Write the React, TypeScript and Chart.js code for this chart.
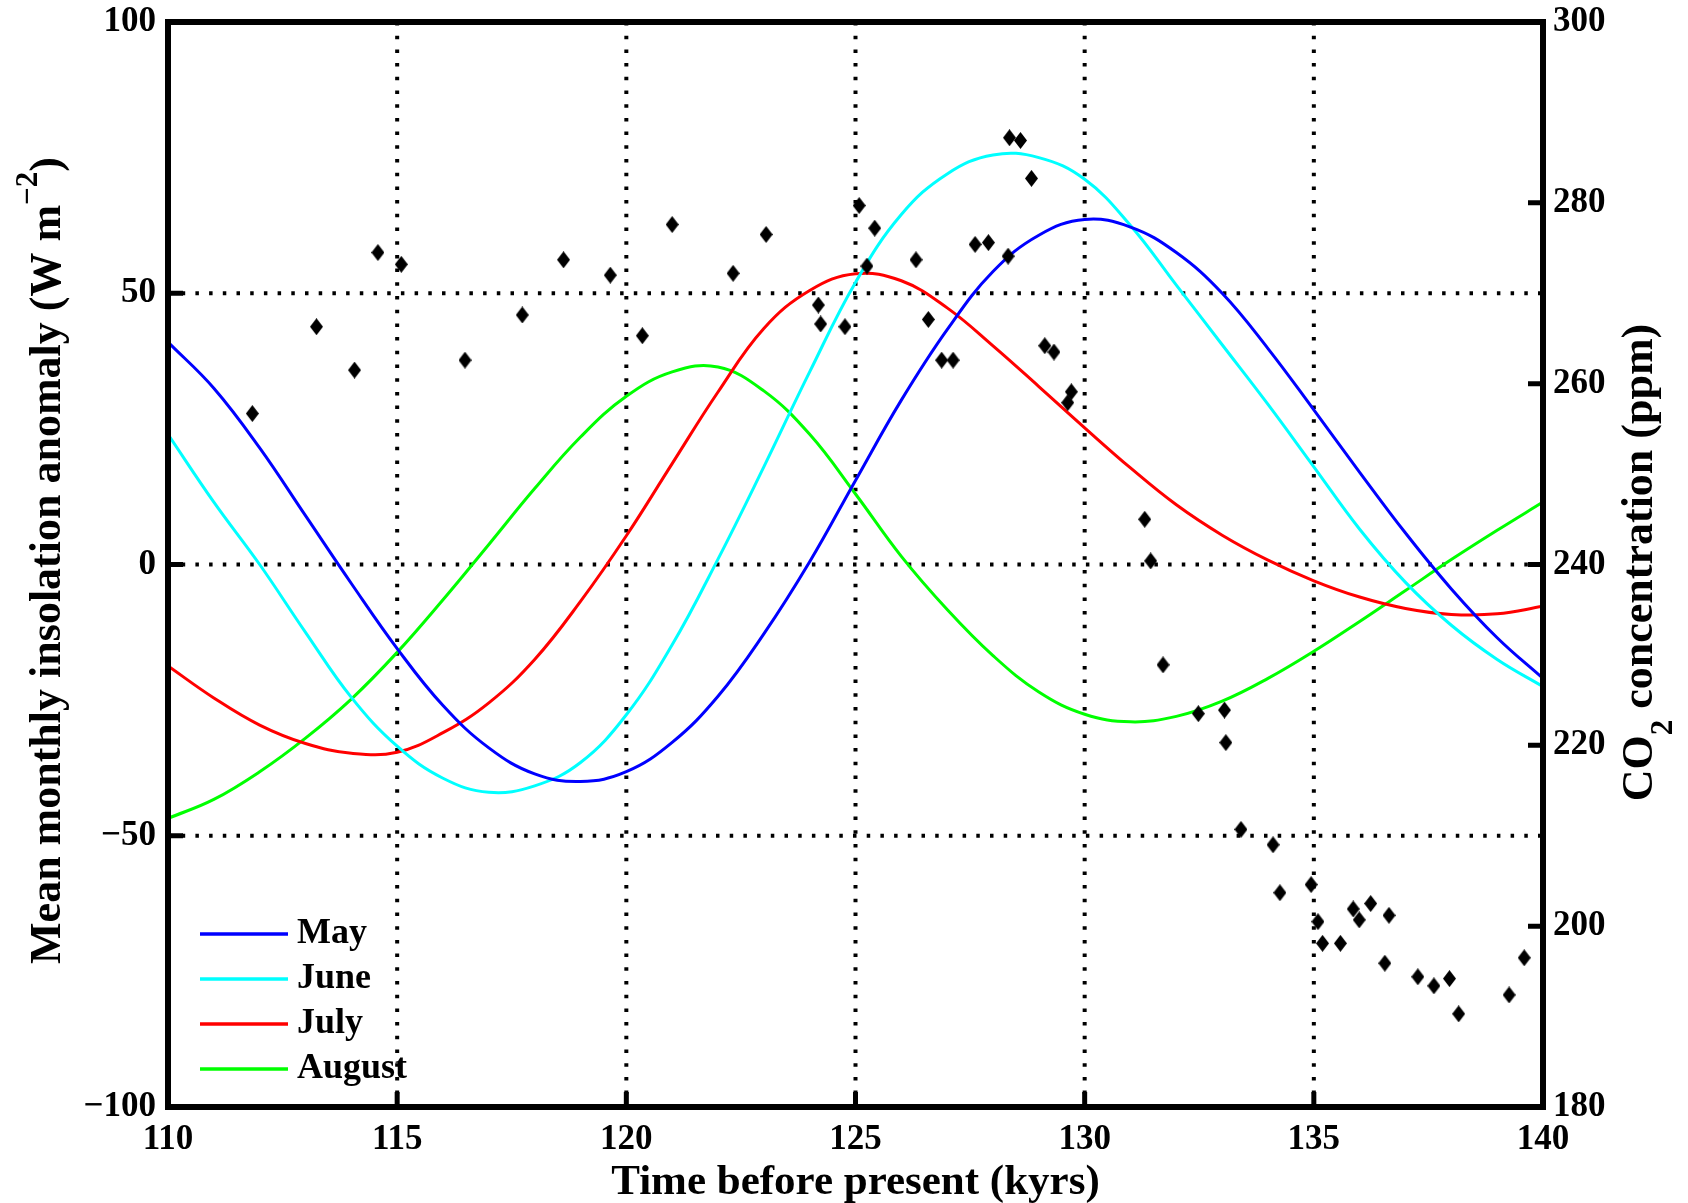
import { useEffect, useRef } from "react";
import { Chart, registerables } from "chart.js";

Chart.register(...registerables);

// Age before present (kyrs) at which insolation anomalies are read
const years = [110, 111, 112, 113, 114, 115, 116, 117, 118, 119, 120, 121, 122, 123, 124, 125, 126, 127, 128, 129, 130, 131, 132, 133, 134, 135, 136, 137, 138, 139, 140];

// Mean monthly insolation anomaly (W m-2)
const may = [41, 32.5, 21.5, 9, -3.5, -15.5, -26, -33.8, -38.6, -40, -38.2, -32.8, -24.3, -12.8, 0.5, 15.5, 30.3, 43.3, 54, 60.7, 63.6, 62.2, 57.5, 50, 39.8, 28.5, 17, 5.8, -4.5, -13.5, -21];
const june = [24, 11.5, 0, -12.5, -24.5, -33.5, -39.4, -42, -40.8, -36.5, -27.7, -14.8, 1, 18, 35.5, 52, 64.5, 72, 75.5, 75, 71, 62.5, 51.5, 40.5, 29.5, 18, 6.5, -3.3, -11.2, -17.5, -22.5];
const july = [-18.7, -24.6, -29.6, -33, -34.8, -34.6, -31, -25.5, -17.5, -6.8, 5.3, 18.6, 31.8, 43.5, 50.5, 53.6, 52.3, 47.3, 40.3, 32.8, 25.2, 17.8, 11, 5.4, 0.8, -3, -6, -8.1, -9.2, -9.1, -7.7];
const august = [-46.8, -43.3, -38.2, -32, -24.8, -16.2, -6.5, 3.7, 14, 23.5, 31, 35.5, 36.4, 32, 24, 13, 1.5, -8.3, -16.8, -23.5, -27.6, -29, -28, -25.2, -21, -16, -10.5, -4.8, 0.9, 6.3, 11.5];

// CO2 record (age in kyrs, concentration in ppm)
const co2Age = [111.84, 113.24, 114.07, 114.58, 115.09, 116.48, 117.73, 118.63, 119.65, 120.35, 121.0, 122.33, 123.05, 124.19, 124.24, 124.77, 125.08, 125.42, 125.25, 126.32, 126.59, 126.88, 127.13, 127.61, 127.9, 128.33, 128.36, 128.6, 128.84, 129.13, 129.33, 129.71, 129.63, 131.31, 131.44, 131.71, 132.48, 133.05, 133.08, 133.41, 134.11, 134.26, 134.94, 135.09, 135.19, 135.58, 135.86, 135.99, 136.24, 136.64, 136.55, 137.27, 137.62, 137.96, 138.16, 139.26, 139.59];
const co2Ppm = [256.7, 266.3, 261.5, 274.5, 273.2, 262.6, 267.6, 273.7, 272.0, 265.3, 277.6, 272.2, 276.5, 268.7, 266.6, 266.3, 279.7, 277.2, 273.0, 273.7, 267.1, 262.6, 262.6, 275.4, 275.6, 274.1, 287.2, 286.9, 282.7, 264.2, 263.5, 259.1, 257.9, 245.0, 240.4, 228.9, 223.5, 223.9, 220.3, 210.7, 209.0, 203.7, 204.6, 200.5, 198.1, 198.1, 201.9, 200.7, 202.5, 201.2, 195.9, 194.4, 193.4, 194.2, 190.3, 192.4, 196.5];

const seriesNames = ["May", "June", "July", "August"];
const seriesColors = ["#0000ff", "#00ffff", "#ff0000", "#00ff00"];

const xTitle = "Time before present (kyrs)";
const yTitleMain = "Mean monthly insolation anomaly (W m";
const yTitleSup = "\u22122";
const yTitleEnd = ")";
const y2TitleA = "CO";
const y2TitleSub = "2";
const y2TitleB = " concentration (ppm)";

const FONT = "'Liberation Serif', 'Times New Roman', serif";

function makeDiamond(): HTMLCanvasElement {
  const c = document.createElement("canvas");
  c.width = 13;
  c.height = 17;
  const g = c.getContext("2d")!;
  g.fillStyle = "#000";
  g.beginPath();
  g.moveTo(6.5, 0);
  g.lineTo(13, 8.5);
  g.lineTo(6.5, 17);
  g.lineTo(0, 8.5);
  g.closePath();
  g.fill();
  return c;
}

const framePlugin = {
  id: "matlabFrame",
  beforeDatasetsDraw(chart: any) {
    const { ctx, chartArea: a, scales } = chart;
    ctx.save();
    ctx.strokeStyle = "#000";
    ctx.lineWidth = 4;
    ctx.setLineDash([3.5, 10.2]);
    const xs = scales.x;
    xs.ticks.forEach((t: any) => {
      if (t.value > xs.min && t.value < xs.max) {
        const px = xs.getPixelForValue(t.value);
        ctx.beginPath();
        ctx.moveTo(px, a.top);
        ctx.lineTo(px, a.bottom);
        ctx.stroke();
      }
    });
    const ys = scales.y;
    ys.ticks.forEach((t: any) => {
      if (t.value > ys.min && t.value < ys.max) {
        const py = ys.getPixelForValue(t.value);
        ctx.beginPath();
        ctx.moveTo(a.left, py);
        ctx.lineTo(a.right, py);
        ctx.stroke();
      }
    });
    ctx.restore();
  },
  afterDatasetsDraw(chart: any) {
    const { ctx, chartArea: a, scales } = chart;
    ctx.save();
    ctx.setLineDash([]);
    ctx.strokeStyle = "#000";
    ctx.lineWidth = 5;
    const tl = 15;
    ctx.beginPath();
    scales.x.ticks.forEach((t: any) => {
      const px = scales.x.getPixelForValue(t.value);
      ctx.moveTo(px, a.bottom);
      ctx.lineTo(px, a.bottom - tl);
    });
    scales.y.ticks.forEach((t: any) => {
      const py = scales.y.getPixelForValue(t.value);
      ctx.moveTo(a.left, py);
      ctx.lineTo(a.left + tl, py);
    });
    scales.y2.ticks.forEach((t: any) => {
      const py = scales.y2.getPixelForValue(t.value);
      ctx.moveTo(a.right, py);
      ctx.lineTo(a.right - tl, py);
    });
    ctx.stroke();
    ctx.lineWidth = 6;
    ctx.lineJoin = "miter";
    ctx.strokeRect(a.left, a.top, a.right - a.left, a.bottom - a.top);
    ctx.restore();
  },
  afterDraw(chart: any) {
    const { ctx, chartArea: a } = chart;
    const cy = (a.top + a.bottom) / 2;
    ctx.save();
    ctx.fillStyle = "#000";
    ctx.textBaseline = "alphabetic";

    // x title
    ctx.font = `bold 43px ${FONT}`;
    ctx.textAlign = "center";
    ctx.fillText(xTitle, (a.left + a.right) / 2, a.bottom + 87);

    // left y title with superscript
    ctx.textAlign = "left";
    const LF = 44;
    ctx.font = `bold ${LF}px ${FONT}`;
    const w1 = ctx.measureText(yTitleMain).width;
    const w3 = ctx.measureText(yTitleEnd).width;
    ctx.font = `bold 31px ${FONT}`;
    const w2 = ctx.measureText(yTitleSup).width;
    const tot = w1 + w2 + w3;
    ctx.save();
    ctx.translate(a.left - 108, cy - 4);
    ctx.rotate(-Math.PI / 2);
    let u = -tot / 2;
    ctx.font = `bold ${LF}px ${FONT}`;
    ctx.fillText(yTitleMain, u, 0);
    u += w1;
    ctx.font = `bold 31px ${FONT}`;
    ctx.fillText(yTitleSup, u, -23);
    u += w2;
    ctx.font = `bold ${LF}px ${FONT}`;
    ctx.fillText(yTitleEnd, u, 0);
    ctx.restore();

    // right y title with subscript
    const RF = 44;
    ctx.font = `bold ${RF}px ${FONT}`;
    const r1 = ctx.measureText(y2TitleA).width;
    const r3 = ctx.measureText(y2TitleB).width;
    ctx.font = `bold 31px ${FONT}`;
    const r2 = ctx.measureText(y2TitleSub).width;
    const rt = r1 + r2 + r3;
    ctx.save();
    ctx.translate(a.right + 109, cy - 2);
    ctx.rotate(-Math.PI / 2);
    let v = -rt / 2;
    ctx.font = `bold ${RF}px ${FONT}`;
    ctx.fillText(y2TitleA, v, 0);
    v += r1;
    ctx.font = `bold 31px ${FONT}`;
    ctx.fillText(y2TitleSub, v, 20);
    v += r2;
    ctx.font = `bold ${RF}px ${FONT}`;
    ctx.fillText(y2TitleB, v, 0);
    ctx.restore();

    // legend
    const lines = chart.data.datasets.filter((d: any) => d.type === "line");
    lines.forEach((d: any, i: number) => {
      const y = a.bottom - 173 + i * 45;
      ctx.strokeStyle = d.borderColor;
      ctx.lineWidth = 3.5;
      ctx.beginPath();
      ctx.moveTo(a.left + 32, y);
      ctx.lineTo(a.left + 120, y);
      ctx.stroke();
      ctx.fillStyle = "#000";
      ctx.font = `bold 36px ${FONT}`;
      ctx.textAlign = "left";
      ctx.textBaseline = "middle";
      ctx.fillText(d.label, a.left + 129, y);
    });
    ctx.restore();
  },
};

export default function App() {
  const ref = useRef<HTMLCanvasElement | null>(null);

  useEffect(() => {
    const canvas = ref.current;
    if (!canvas) return;
    const diamond = makeDiamond();
    const curves = [may, june, july, august];
    const tickFont = { family: FONT, size: 35, weight: "bold" as const };

    const datasets: any[] = [
      {
        type: "scatter",
        label: "CO2",
        data: co2Age.map((x, i) => ({ x, y: co2Ppm[i] })),
        yAxisID: "y2",
        pointStyle: diamond,
        pointRadius: 7,
        showLine: false,
        backgroundColor: "#000",
        borderColor: "#000",
      },
      ...curves.map((vals, k) => ({
        type: "line",
        label: seriesNames[k],
        data: years.map((x, i) => ({ x, y: vals[i] })),
        yAxisID: "y",
        borderColor: seriesColors[k],
        backgroundColor: seriesColors[k],
        borderWidth: 3,
        pointRadius: 0,
        tension: 0.4,
        fill: false,
      })),
    ];

    const vertFit = (w: number) => (s: any) => {
      s.width = w;
      s.paddingTop = 0;
      s.paddingBottom = 0;
    };

    const chart = new Chart(canvas, {
      type: "line",
      data: { datasets },
      plugins: [framePlugin],
      options: {
        animation: false,
        responsive: false,
        devicePixelRatio: 1,
        events: [],
        layout: { padding: { top: 22, left: 0, right: 0, bottom: 0 } },
        plugins: { legend: { display: false }, tooltip: { enabled: false } },
        scales: {
          x: {
            type: "linear",
            position: "bottom",
            min: 110,
            max: 140,
            ticks: { stepSize: 5, font: tickFont, color: "#000", padding: 12, maxRotation: 0, autoSkip: false },
            grid: { display: false, drawTicks: false },
            border: { display: false },
            afterFit: (s: any) => {
              s.height = 96;
              s.paddingLeft = 0;
              s.paddingRight = 0;
            },
          },
          y: {
            type: "linear",
            position: "left",
            min: -100,
            max: 100,
            ticks: {
              stepSize: 50,
              font: tickFont,
              color: "#000",
              padding: 12,
              callback: (v: any) => (Number(v) < 0 ? "\u2212" + Math.abs(Number(v)) : String(v)),
            },
            grid: { display: false, drawTicks: false },
            border: { display: false },
            afterFit: vertFit(168),
          },
          y2: {
            type: "linear",
            position: "right",
            min: 180,
            max: 300,
            ticks: { stepSize: 20, font: tickFont, color: "#000", padding: 10 },
            grid: { display: false, drawTicks: false },
            border: { display: false },
            afterFit: vertFit(145),
          },
        },
      } as any,
    });
    return () => chart.destroy();
  }, []);

  return (
    <div style={{ position: "absolute", left: 0, top: 0, width: 1688, height: 1203, background: "#fff" }}>
      <canvas ref={ref} width={1688} height={1203} style={{ width: 1688, height: 1203, display: "block" }} />
    </div>
  );
}
